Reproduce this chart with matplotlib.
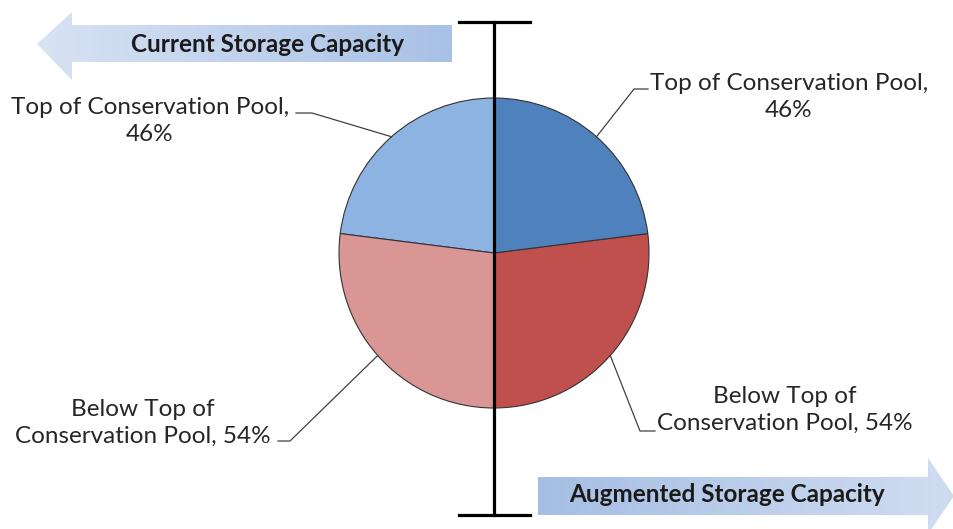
import numpy as np
import matplotlib.pyplot as plt
from matplotlib.patches import Polygon
from matplotlib.colors import LinearSegmentedColormap

# two half pies: left = current storage, right = augmented storage
labels = ["Top of Conservation Pool,\n46%",
          "Below Top of\nConservation Pool, 54%",
          "Below Top of\nConservation Pool, 54%",
          "Top of Conservation Pool,\n46%"]
values = [46, 54, 54, 46]
colors = ["#8DB3E2", "#D99694", "#C0504D", "#4F81BD"]
arrow_titles = ["Current Storage Capacity", "Augmented Storage Capacity"]

H = 529
def Y(y):
    return H - y

fig = plt.figure(figsize=(9.54, 5.29), dpi=100)
ax = fig.add_axes([0, 0, 1, 1])

cx, cy, r = 494, Y(253), 155
wedges, _ = ax.pie(values, colors=colors, startangle=90, counterclock=True,
                   center=(cx, cy), radius=r,
                   wedgeprops=dict(edgecolor="#333333", linewidth=0.8))
ax.set_aspect("equal")
ax.axis("off")

# label text positions and leader elbows (pixel coords of the picture)
text_pos = [(150, 121), (143, 423), (785, 410), (789, 97)]
elbows = [[(312, 113), (296, 113)], [(290, 441), (278, 441)],
          [(640, 431), (655, 431)], [(634, 89), (648, 89)]]

for w, lab, tp, el in zip(wedges, labels, text_pos, elbows):
    mid = np.deg2rad((w.theta1 + w.theta2) / 2)
    px, py = cx + r * np.cos(mid), cy + r * np.sin(mid)
    xs = [px] + [p[0] for p in el]
    ys = [py] + [Y(p[1]) for p in el]
    ax.plot(xs, ys, color="#404040", lw=0.9, zorder=3)
    ax.text(tp[0], Y(tp[1]), lab, ha="center", va="center", fontsize=17.5,
            family="Lato", color="#262626", linespacing=1.3)

# vertical divider with caps
ax.plot([494, 494], [Y(22), Y(515)], color="black", lw=2.3, zorder=5)
ax.plot([459, 530], [Y(22), Y(22)], color="black", lw=2.3, zorder=5)
ax.plot([459, 530], [Y(515), Y(515)], color="black", lw=2.3, zorder=5)

# gradient arrows
def grad_arrow(pts, c_left, c_right, title, tx, ty):
    pts = [(x, Y(y)) for x, y in pts]
    poly = Polygon(pts, closed=True, facecolor="none", edgecolor="none")
    ax.add_patch(poly)
    xs = [p[0] for p in pts]
    ys = [p[1] for p in pts]
    cmap = LinearSegmentedColormap.from_list("g", [c_left, c_right])
    grad = np.linspace(0, 1, 256).reshape(1, -1)
    im = ax.imshow(grad, cmap=cmap, aspect="auto", origin="lower",
                   extent=(min(xs), max(xs), min(ys), max(ys)), zorder=1)
    im.set_clip_path(poly)
    ax.text(tx, Y(ty), title, ha="center", va="center", fontsize=17.5,
            family="Lato", weight="bold", color="#1a1a1a", zorder=6)

grad_arrow([(37, 44), (72, 12), (72, 25), (452, 25), (452, 62), (72, 62), (72, 80)],
           "#D8E3F3", "#A9C1E6", arrow_titles[0], 268, 44)
grad_arrow([(538, 477), (928, 477), (928, 458), (954, 496), (928, 534), (928, 515), (538, 515)],
           "#A6BEE4", "#D0DDF1", arrow_titles[1], 727, 495)

ax.set_xlim(0, 954)
ax.set_ylim(0, H)
fig.savefig("out.png", dpi=100)
